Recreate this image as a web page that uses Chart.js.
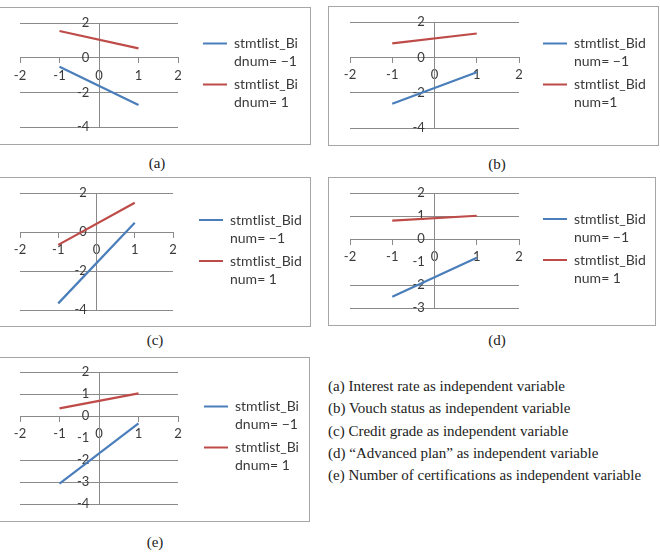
<!DOCTYPE html>
<html>
<head>
<meta charset="utf-8">
<script src="https://cdn.jsdelivr.net/npm/chart.js@4.4.1/dist/chart.umd.min.js"></script>
<style>
  body { margin: 0; background: #fff; width: 660px; height: 557px; overflow: hidden; position: relative; font-family: "Liberation Serif", serif; }
  .panel { position: absolute; border: 1px solid #a6a6a6; box-sizing: border-box; background: #fff; }
  .panel canvas { position: absolute; left: 0; top: 0; }
  .cap { position: absolute; font-size: 15px; color: #222; transform: translate(-50%, -50%); }
  #notes { position: absolute; left: 328px; top: 375px; font-size: 15px; line-height: 22.25px; color: #222; white-space: nowrap; }
</style>
</head>
<body>
<div class="cap" style="left:157px;top:163px">(a)</div>
<div class="cap" style="left:497px;top:164px">(b)</div>
<div class="cap" style="left:155px;top:340px">(c)</div>
<div class="cap" style="left:497px;top:340px">(d)</div>
<div class="cap" style="left:155px;top:542px">(e)</div>
<div id="notes">
  <div>(a) Interest rate as independent variable</div>
  <div>(b) Vouch status as independent variable</div>
  <div>(c) Credit grade as independent variable</div>
  <div>(d) “Advanced plan” as independent variable</div>
  <div>(e) Number of certifications as independent variable</div>
</div>
<script>
// x positions of the two line ends, and axis ticks
const xValues = [-1, 1];
const xTicks = [-2, -1, 0, 1, 2];
const yTicksWide = [-4, -2, 0, 2];
const yTicksD = [-3, -2, -1, 0, 1, 2];
const yTicksE = [-4, -3, -2, -1, 0, 1, 2];

// series values at x = -1 and x = 1
const aMinus = [-0.52, -2.73];
const aPlus = [1.54, 0.54];
const bMinus = [-2.63, -0.84];
const bPlus = [0.79, 1.35];
const cMinus = [-3.66, 0.48];
const cPlus = [-0.66, 1.5];
const dMinus = [-2.51, -0.81];
const dPlus = [0.8, 1.01];
const eMinus = [-3.07, -0.33];
const ePlus = [0.35, 1.03];

const legendBi = [["stmtlist_Bi", "dnum= −1"], ["stmtlist_Bi", "dnum= 1"]];
const legendB = [["stmtlist_Bid", "num= −1"], ["stmtlist_Bid", "num=1"]];
const legendBid = [["stmtlist_Bid", "num= −1"], ["stmtlist_Bid", "num= 1"]];

const BLUE = "#4a7ebb";
const RED = "#be4b48";
const GRID = "#8a8a8a";
const TEXT = "#3a3a3a";
const LEG_PAD = 5;
const BOX_W = 24;

// box = [left, top, right, bottom], plot = pixel of x=-2, x=2, top tick, bottom tick
const panels = [
  { box: [-1, 7, 310, 144], plot: [20, 178, 23, 127], legendX: 203, yTicks: yTicksWide, minus: aMinus, plus: aPlus, legend: legendBi, hide: [] },
  { box: [328, 6, 658, 145], plot: [350, 519, 22, 128], legendX: 543, yTicks: yTicksWide, minus: bMinus, plus: bPlus, legend: legendB, hide: [] },
  { box: [-1, 177, 310, 326], plot: [20, 173, 193, 310], legendX: 199, yTicks: yTicksWide, minus: cMinus, plus: cPlus, legend: legendBid, hide: [] },
  { box: [328, 177, 655, 325], plot: [350, 519, 193, 308], legendX: 543, yTicks: yTicksD, minus: dMinus, plus: dPlus, legend: legendBid, hide: [-1] },
  { box: [-1, 357, 309, 521], plot: [20, 178, 372, 504], legendX: 204, yTicks: yTicksE, minus: eMinus, plus: ePlus, legend: legendBi, hide: [-1] }
];

function makePanel(p) {
  const [l, t, r, b] = p.box;
  const div = document.createElement("div");
  div.className = "panel";
  div.style.left = l + "px";
  div.style.top = t + "px";
  div.style.width = (r - l + 1) + "px";
  div.style.height = (b - t + 1) + "px";
  const cv = document.createElement("canvas");
  const cw = r - l - 1, ch = b - t - 1;
  cv.width = cw;
  cv.height = ch;
  div.appendChild(cv);
  document.body.appendChild(div);

  const ox = l + 1, oy = t + 1;
  const plotL = p.plot[0] - ox, plotR = p.plot[1] - ox;
  const plotT = p.plot[2] - oy, plotB = p.plot[3] - oy;
  const legLeft = p.legendX - LEG_PAD - ox;

  // work out the legend width the same way Chart.js does, so the plot lands where it should
  const mctx = cv.getContext("2d");
  mctx.font = "14px Lato";
  const textW = Math.max(...p.legend.map(lines =>
    mctx.measureText(lines.reduce((a, s) => s.length > a.length ? s : a, "")).width));
  const legW = LEG_PAD + BOX_W + 7 + textW + 10;
  const padR = Math.max(0, cw - legLeft - legW);

  const yMin = Math.min(...p.yTicks), yMax = Math.max(...p.yTicks);
  const tickFont = { family: "Lato", size: 13 };

  new Chart(cv, {
    type: "line",
    data: {
      datasets: [
        { label: p.legend[0].join(" "), data: xValues.map((x, i) => ({ x, y: p.minus[i] })), borderColor: BLUE, backgroundColor: BLUE, borderWidth: 2.2, pointRadius: 0, tension: 0 },
        { label: p.legend[1].join(" "), data: xValues.map((x, i) => ({ x, y: p.plus[i] })), borderColor: RED, backgroundColor: RED, borderWidth: 2.2, pointRadius: 0, tension: 0 }
      ]
    },
    options: {
      responsive: false,
      animation: false,
      devicePixelRatio: 1,
      layout: { padding: { left: plotL, top: plotT, bottom: ch - plotB, right: padR } },
      scales: {
        x: {
          type: "linear", min: xTicks[0], max: xTicks[xTicks.length - 1],
          position: { y: 0 },
          afterBuildTicks: s => { s.ticks = xTicks.map(v => ({ value: v })); },
          ticks: { color: TEXT, font: tickFont, padding: 5, maxRotation: 0 },
          grid: { drawOnChartArea: false, drawTicks: true, tickLength: 5, color: GRID },
          border: { color: GRID, width: 1 }
        },
        y: {
          type: "linear", min: yMin, max: yMax,
          position: { x: 0 },
          afterBuildTicks: s => { s.ticks = p.yTicks.map(v => ({ value: v })); },
          ticks: { color: TEXT, font: tickFont, callback: v => v + "\u2003" },
          grid: { color: c => p.hide.includes(c.tick && c.tick.value) ? "rgba(0,0,0,0)" : GRID, drawTicks: false },
          border: { color: GRID, width: 1 }
        },
        gap: {
          type: "linear", axis: "y", position: "right", display: true,
          ticks: { display: false }, grid: { display: false }, border: { display: false },
          afterFit: s => { s.width = legLeft - plotR; }
        }
      },
      plugins: {
        tooltip: { enabled: false },
        legend: {
          position: "right", align: "center", maxWidth: cw - legLeft,
          labels: {
            boxWidth: BOX_W, boxHeight: 2, padding: LEG_PAD, color: TEXT,
            font: { family: "Lato", size: 14, lineHeight: 18 / 14 },
            generateLabels: chart => chart.data.datasets.map((ds, i) => ({
              text: p.legend[i], fillStyle: ds.borderColor, strokeStyle: ds.borderColor,
              lineWidth: 0, hidden: false, datasetIndex: i, fontColor: TEXT
            }))
          }
        }
      }
    }
  });
}

panels.forEach(makePanel);
</script>
</body>
</html>
